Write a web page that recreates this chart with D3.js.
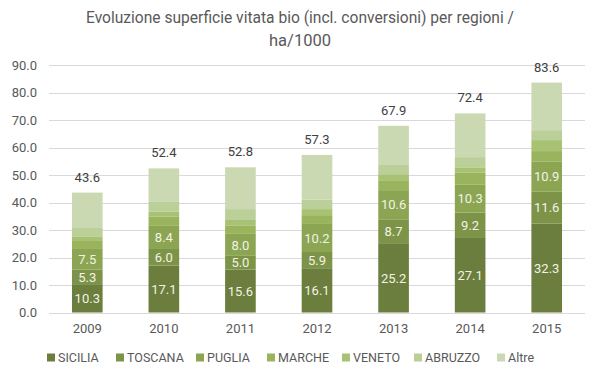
<!DOCTYPE html>
<html><head><meta charset="utf-8">
<script src="https://cdn.jsdelivr.net/npm/d3@7"></script>
<style>
body{margin:0;background:#fff;}
text{font-family:Roboto,"DejaVu Sans Condensed",sans-serif;}
</style></head>
<body><svg id="c" width="600" height="378"></svg>
<script>
const years = ["2009","2010","2011","2012","2013","2014","2015"];
const seriesNames = ["SICILIA","TOSCANA","PUGLIA","MARCHE","VENETO","ABRUZZO","Altre"];
const sicilia = [10.3,17.1,15.6,16.1,25.2,27.1,32.3];
const toscana = [5.3,6.0,5.0,5.9,8.7,9.2,11.6];
const puglia  = [7.5,8.4,8.0,10.2,10.6,10.3,10.9];
const marche  = [3.2,3.3,3.1,3.2,3.6,4.2,3.9];
const veneto  = [1.4,1.8,2.2,2.2,2.2,2.0,4.0];
const abruzzo = [3.3,3.6,3.7,3.5,3.6,3.7,3.6];
const altre   = [12.6,12.2,15.2,16.2,14.0,15.9,17.3];
const totals  = [43.6,52.4,52.8,57.3,67.9,72.4,83.6];
const yTicks  = [0,10,20,30,40,50,60,70,80,90];
const colors  = ["#6b7e3d","#7d9448","#8ba553","#9ab45d","#a8c274","#bbcf98","#cbd9b3"];
const labeled = ["SICILIA","TOSCANA","PUGLIA"];

const seriesVals = [sicilia,toscana,puglia,marche,veneto,abruzzo,altre];
const rows = years.map((y,i)=>{const r={year:y}; seriesNames.forEach((s,k)=>r[s]=seriesVals[k][i]); return r;});
const stacked = d3.stack().keys(seriesNames)(rows);

const svg = d3.select("#c");
const x = d3.scaleBand().domain(years).range([49,585]).paddingInner(0.6).paddingOuter(0.3);
const y = d3.scaleLinear().domain([0,90]).range([312.5,65]);

// gridlines
svg.append("g").selectAll("line").data(yTicks).join("line")
  .attr("x1",49).attr("x2",585).attr("y1",d=>Math.round(y(d))+0.5).attr("y2",d=>Math.round(y(d))+0.5)
  .attr("stroke","#d9d9d9").attr("stroke-width",1);

// y axis labels
const yAxis = d3.axisLeft(y).tickValues(yTicks).tickFormat(d3.format(".1f")).tickSize(0).tickPadding(0);
const ya = svg.append("g").attr("transform","translate(37,0)").call(yAxis);
ya.select(".domain").remove();
ya.selectAll("text").attr("font-size",13).attr("fill","#595959").style("font-family",null);

// x axis labels
const xAxis = d3.axisBottom(x).tickSize(0).tickPadding(0);
const xa = svg.append("g").attr("transform","translate(0,324)").call(xAxis);
xa.select(".domain").remove();
xa.selectAll("text").attr("font-size",13).attr("fill","#595959").attr("dy","0.71em").style("font-family",null);

// bars
const layers = svg.append("g").selectAll("g").data(stacked).join("g").attr("fill",(d,i)=>colors[i]);
layers.selectAll("rect").data(d=>d).join("rect")
  .attr("x",d=>x(d.data.year)).attr("width",x.bandwidth())
  .attr("y",d=>y(d[1])).attr("height",d=>y(d[0])-y(d[1]));

// segment labels
const lab = svg.append("g");
stacked.filter(s=>labeled.includes(s.key)).forEach(s=>{
  lab.selectAll(null).data(s).join("text")
    .attr("x",d=>x(d.data.year)+x.bandwidth()/2)
    .attr("y",d=>(y(d[0])+y(d[1]))/2)
    .attr("dy","0.36em").attr("text-anchor","middle")
    .attr("font-size",13).attr("fill","#f2f2e6")
    .text(d=>d3.format(".1f")(d[1]-d[0]));
});

// totals
svg.append("g").selectAll("text").data(years).join("text")
  .attr("x",d=>x(d)+x.bandwidth()/2)
  .attr("y",(d,i)=>y(totals[i])-11)
  .attr("text-anchor","middle").attr("font-size",13).attr("fill","#404040")
  .text((d,i)=>d3.format(".1f")(totals[i]));

// title
const t = svg.append("text").attr("text-anchor","middle").attr("fill","#595959").attr("font-size",16);
t.append("tspan").attr("x",300).attr("y",23)
  .attr("textLength",428).attr("lengthAdjust","spacingAndGlyphs")
  .text("Evoluzione superficie vitata bio (incl. conversioni)  per regioni /");
t.append("tspan").attr("x",300).attr("y",46).attr("textLength",62).attr("lengthAdjust","spacingAndGlyphs").text("ha/1000");

// legend
const legX = [47,116,196,267,342,414,497];
const lg = svg.append("g").selectAll("g").data(seriesNames).join("g")
  .attr("transform",(d,i)=>`translate(${legX[i]},357.5)`);
lg.append("rect").attr("x",0).attr("y",-4).attr("width",8).attr("height",8).attr("fill",(d,i)=>colors[i]);
lg.append("text").attr("x",11).attr("dy","0.36em").attr("font-size",12.5).attr("fill","#595959").text(d=>d);
</script></body></html>
